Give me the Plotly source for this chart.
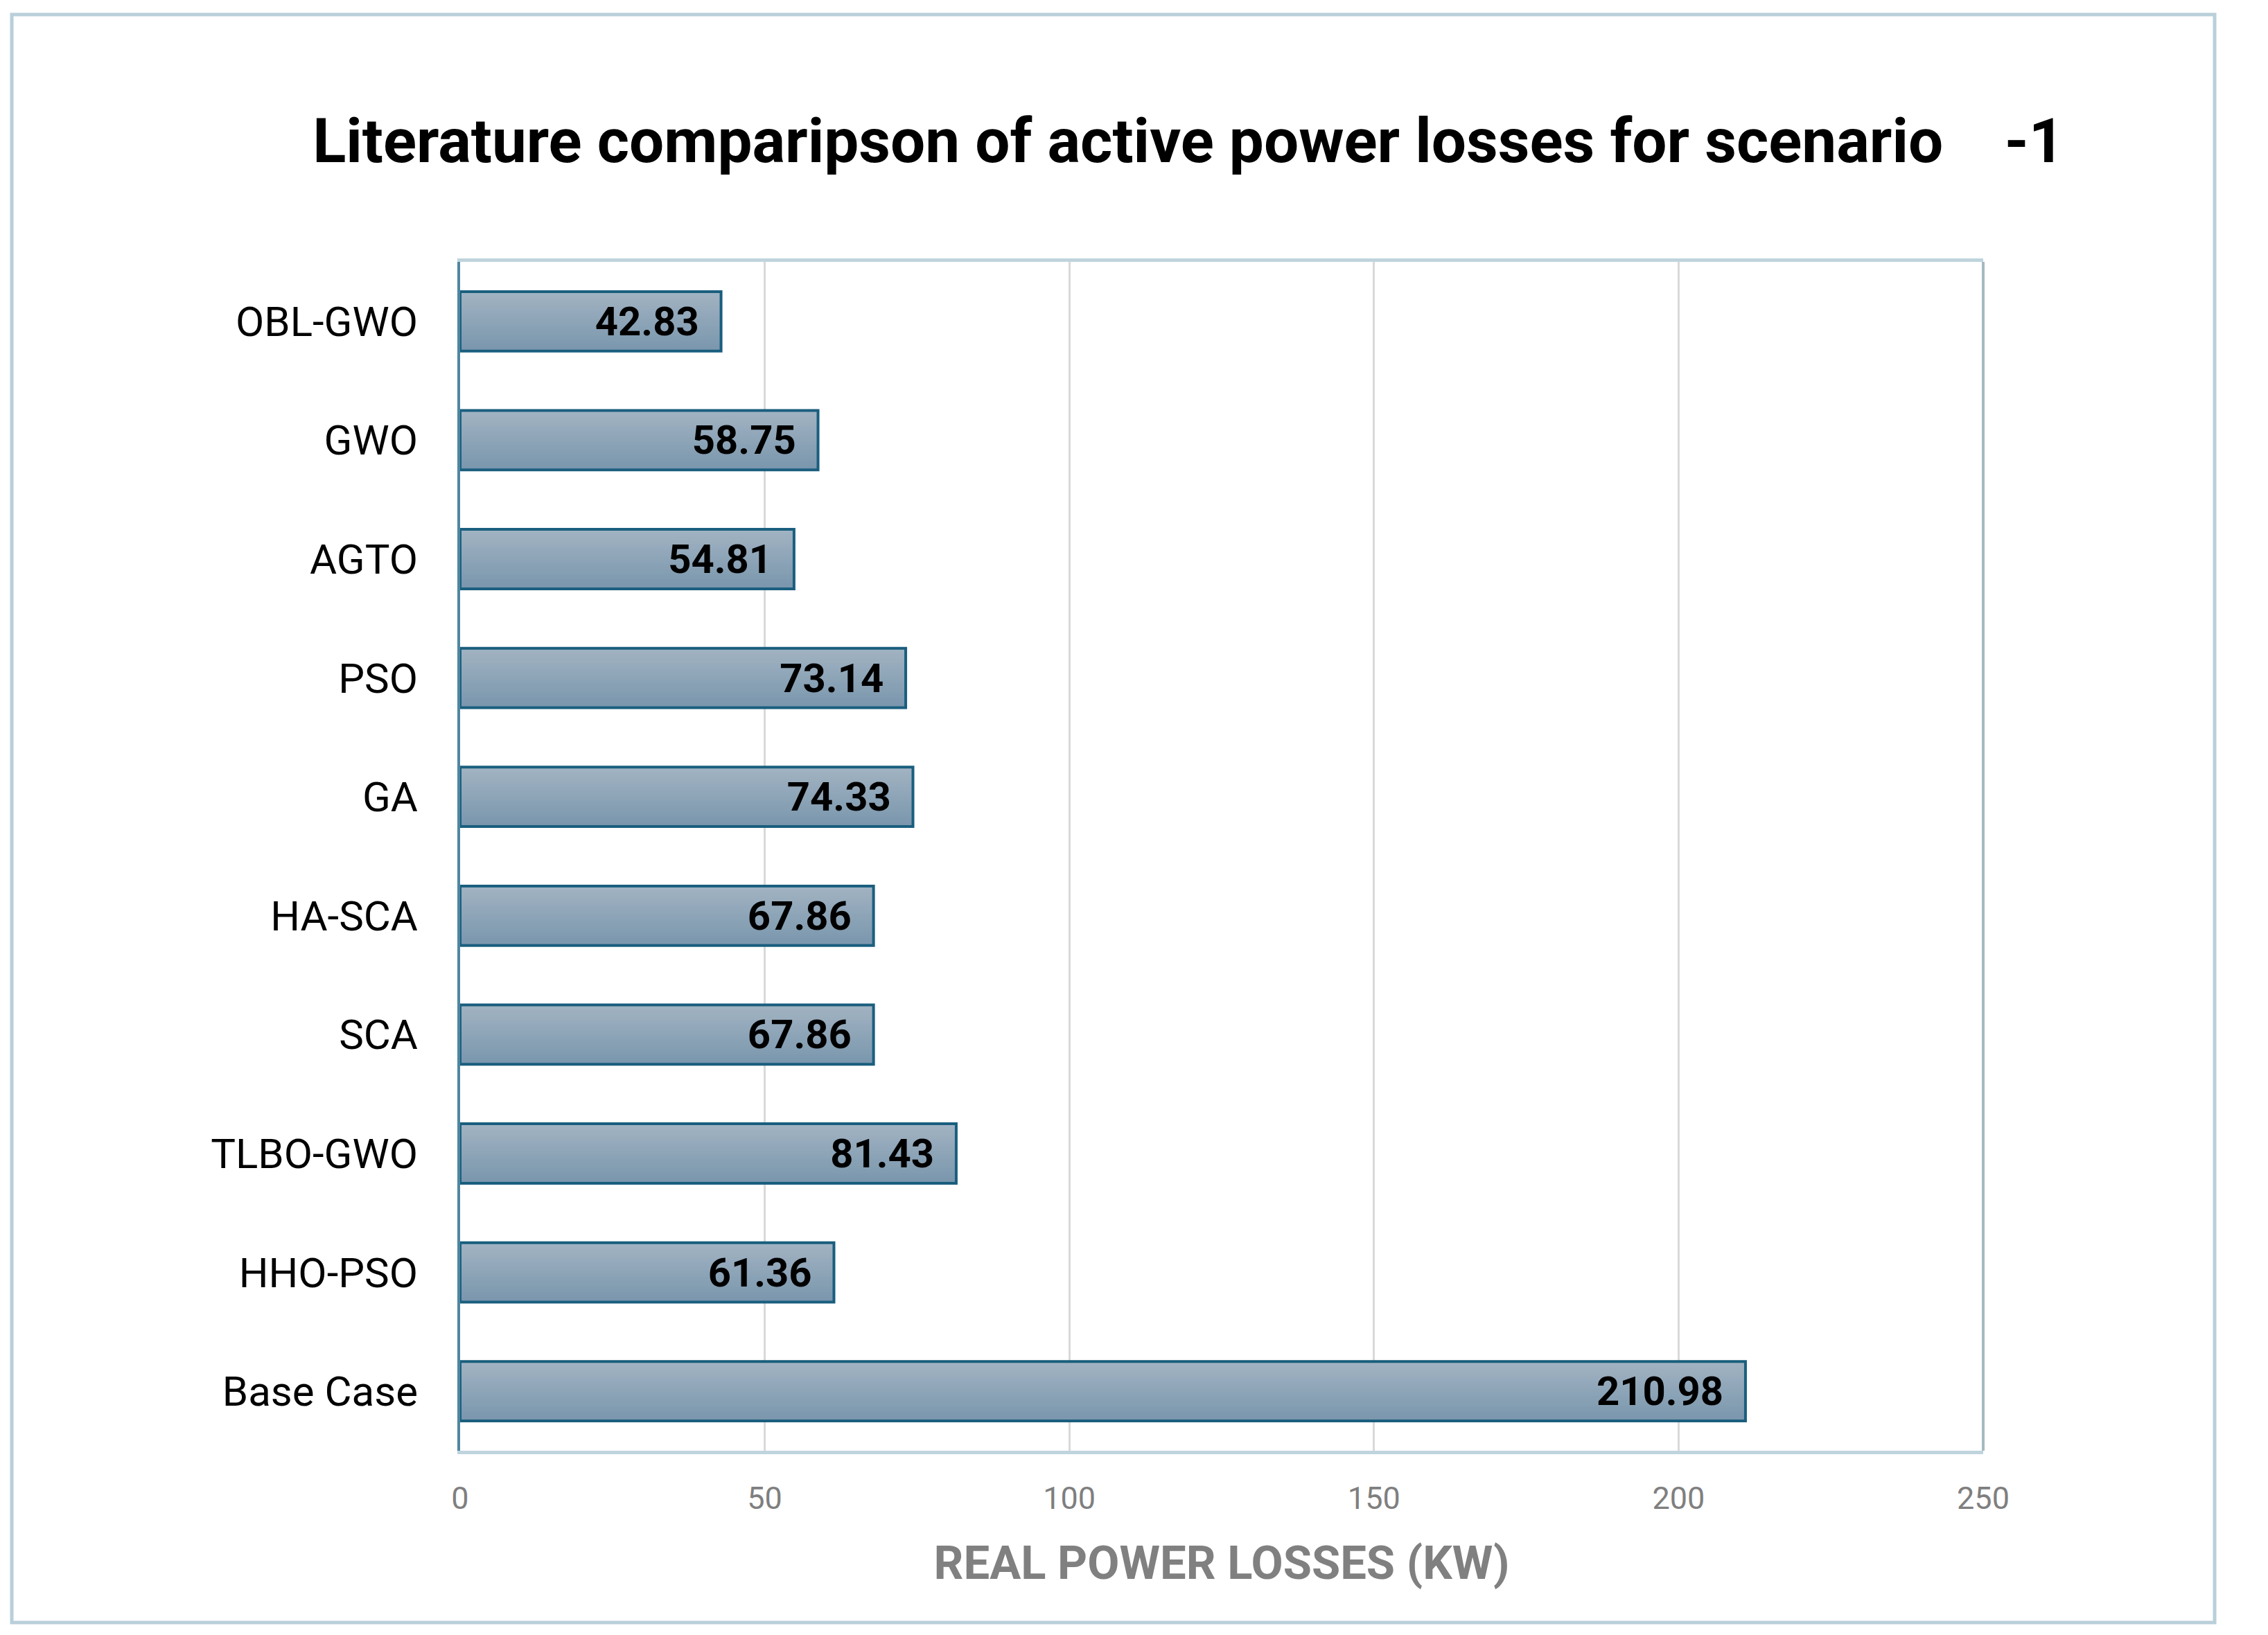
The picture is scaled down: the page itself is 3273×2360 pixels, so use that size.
import plotly.graph_objects as go

categories = ["OBL-GWO", "GWO", "AGTO", "PSO", "GA", "HA-SCA", "SCA", "TLBO-GWO", "HHO-PSO", "Base Case"]
losses = [42.83, 58.75, 54.81, 73.14, 74.33, 67.86, 67.86, 81.43, 61.36, 210.98]
x_ticks = [0, 50, 100, 150, 200, 250]

FONT = "Roboto"
OFF = 8  # browser body margin
W, H = 3273 - OFF, 2360 - OFF
L, R, T, B = 664 - OFF, 2862 - OFF, 378 - OFF, 2094 - OFF

BAR_W = 0.5
TOP_C = (0xa1, 0xb3, 0xc2)
BOT_C = (0x7a, 0x96, 0xad)
N = 24

fig = go.Figure()
# vertical gradient fill built from overlaid bars (top light -> bottom dark)
for k in range(N):
    frac = 1 - k / N
    t = k / (N - 1)
    c = tuple(round(BOT_C[i] + (TOP_C[i] - BOT_C[i]) * t) for i in range(3))
    fig.add_trace(go.Bar(
        y=categories, x=losses, orientation="h",
        width=BAR_W * frac, offset=-BAR_W / 2,
        marker=dict(color="rgb(%d,%d,%d)" % c, line=dict(width=0)),
        hoverinfo="skip",
    ))
# outline + labels
fig.add_trace(go.Bar(
    y=categories, x=losses, orientation="h",
    width=BAR_W, offset=-BAR_W / 2,
    marker=dict(color="rgba(0,0,0,0)", line=dict(color="#1a5e7e", width=4)),
    text=[f"{v:.2f}\u00a0\u00a0" for v in losses],
    textposition="inside", insidetextanchor="end", constraintext="none",
    textfont=dict(family=FONT, size=58, color="black", weight="bold"),
    hoverinfo="skip",
))

pw, ph = R - L, B - T
def px_x(px): return (px - OFF - L) / pw
def px_y(py): return (B - (py - OFF)) / ph

fig.update_layout(
    width=W, height=H,
    margin=dict(l=L, r=W - R, t=T, b=H - B),
    paper_bgcolor="white", plot_bgcolor="white",
    barmode="overlay", showlegend=False,
    title=dict(text="Literature comparipson of active power losses for scenario\u00a0\u00a0\u00a0\u00a0-1",
               x=(1715 - OFF) / W, xanchor="center", y=1 - (203 - OFF) / H, yanchor="middle",
               font=dict(family=FONT, size=89, color="black", weight="bold")),
    xaxis=dict(range=[0, 250], tickvals=x_ticks, ticktext=[str(v) for v in x_ticks],
               showgrid=True, gridcolor="#d9d9d9", gridwidth=3, zeroline=False,
               showline=True, mirror=True, linecolor="#bfd4dd", linewidth=5,
               ticks="", ticklabelstandoff=25,
               tickfont=dict(family=FONT, size=45, color="#7f7f7f"),
               title=dict(text="REAL POWER LOSSES (KW)", standoff=46,
                          font=dict(family=FONT, size=67, color="#808080", weight="bold"))),
    yaxis=dict(autorange="reversed", showgrid=False, zeroline=False,
               showline=True, linecolor="#4e87a0", linewidth=4,
               ticks="", ticklabelstandoff=45,
               tickfont=dict(family=FONT, size=60, color="black")),
    shapes=[
        dict(type="line", xref="paper", yref="paper", x0=1, x1=1, y0=0, y1=1,
             line=dict(color="#a5b9c2", width=4)),
        dict(type="rect", xref="paper", yref="paper",
             x0=px_x(17), x1=px_x(3196), y0=px_y(2342), y1=px_y(21),
             line=dict(color="#b9cfd9", width=5), fillcolor="rgba(0,0,0,0)"),
    ],
)

fig.write_html("out.html")
